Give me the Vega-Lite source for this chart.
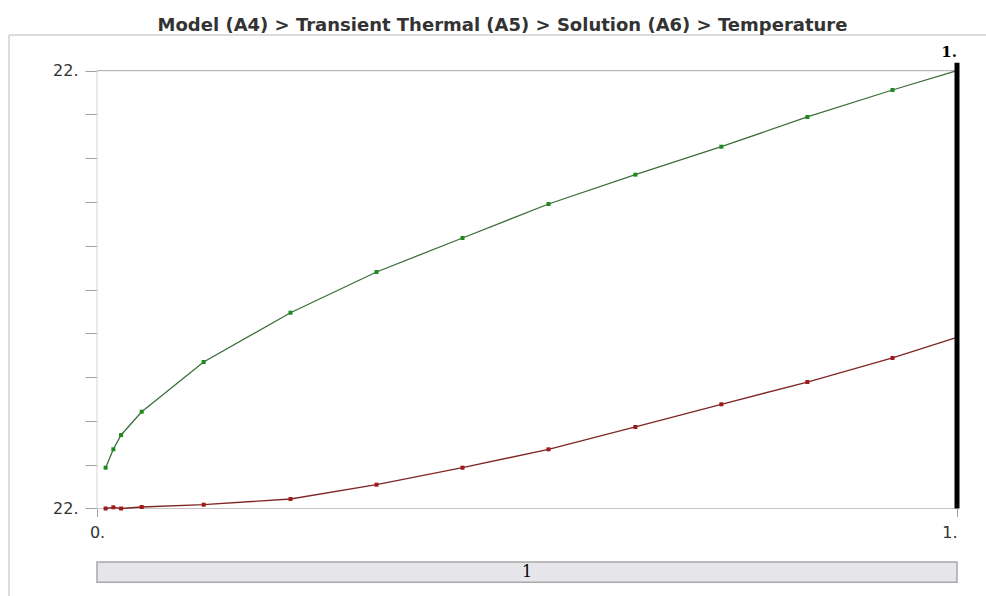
{
  "$schema": "https://vega.github.io/schema/vega-lite/v6.json",
  "width": 977,
  "height": 561,
  "autosize": {"type": "none"},
  "padding": {"left": 9, "top": 35, "right": 0, "bottom": 0},
  "background": "white",
  "config": {"view": {"stroke": null}, "font": "DejaVu Sans"},
  "title": {
    "text": "Model (A4) > Transient Thermal (A5) > Solution (A6) > Temperature",
    "font": "DejaVu Sans",
    "fontSize": 18,
    "fontWeight": "bold",
    "color": "#333333",
    "anchor": "middle",
    "frame": "group",
    "baseline": "bottom",
    "offset": -18,
    "dx": 5
  },
  "datasets": {
    "temperature": [
      {"time": 0.01, "temperature": 22.00932, "series": "Maximum"},
      {"time": 0.019, "temperature": 22.01352, "series": "Maximum"},
      {"time": 0.028, "temperature": 22.01679, "series": "Maximum"},
      {"time": 0.052, "temperature": 22.02211, "series": "Maximum"},
      {"time": 0.124, "temperature": 22.03346, "series": "Maximum"},
      {"time": 0.225, "temperature": 22.04472, "series": "Maximum"},
      {"time": 0.325, "temperature": 22.05402, "series": "Maximum"},
      {"time": 0.425, "temperature": 22.06179, "series": "Maximum"},
      {"time": 0.525, "temperature": 22.06955, "series": "Maximum"},
      {"time": 0.626, "temperature": 22.07625, "series": "Maximum"},
      {"time": 0.726, "temperature": 22.08264, "series": "Maximum"},
      {"time": 0.826, "temperature": 22.08943, "series": "Maximum"},
      {"time": 0.925, "temperature": 22.09559, "series": "Maximum"},
      {"time": 1.0, "temperature": 22.1, "series": "Maximum"},
      {"time": 0.01, "temperature": 22.0, "series": "Minimum"},
      {"time": 0.019, "temperature": 22.00027, "series": "Minimum"},
      {"time": 0.028, "temperature": 22.0, "series": "Minimum"},
      {"time": 0.052, "temperature": 22.00034, "series": "Minimum"},
      {"time": 0.124, "temperature": 22.00087, "series": "Minimum"},
      {"time": 0.225, "temperature": 22.00217, "series": "Minimum"},
      {"time": 0.325, "temperature": 22.00544, "series": "Minimum"},
      {"time": 0.425, "temperature": 22.00932, "series": "Minimum"},
      {"time": 0.525, "temperature": 22.01352, "series": "Minimum"},
      {"time": 0.626, "temperature": 22.01862, "series": "Minimum"},
      {"time": 0.726, "temperature": 22.0238, "series": "Minimum"},
      {"time": 0.826, "temperature": 22.02889, "series": "Minimum"},
      {"time": 0.925, "temperature": 22.03438, "series": "Minimum"},
      {"time": 1.0, "temperature": 22.0391, "series": "Minimum"}
    ],
    "cursor": [{"time": 1.0, "label": "1."}],
    "steps": [{"step": "1", "start": 0, "end": 1}]
  },
  "encoding": {
    "x": {
      "type": "quantitative",
      "scale": {"domain": [-0.102326, 1.033721], "nice": false, "zero": false},
      "axis": {
        "orient": "bottom",
        "offset": -87.5,
        "values": [0, 1],
        "domain": false,
        "grid": false,
        "tickSize": 8,
        "tickColor": "#a0a0a0",
        "labelExpr": "datum.value == 0 ? '0.' : '1.'",
        "labelFont": "DejaVu Sans",
        "labelFontSize": 16,
        "labelColor": "#333333",
        "labelPadding": 8,
        "labelAlign": {"condition": {"test": "datum.value == 1", "value": "right"}, "value": "center"},
        "title": null
      }
    },
    "y": {
      "type": "quantitative",
      "scale": {"domain": [21.980013, 22.108154], "nice": false, "zero": false},
      "axis": {
        "orient": "left",
        "offset": -88,
        "values": [22, 22.01, 22.02, 22.03, 22.04, 22.05, 22.06, 22.07, 22.08, 22.09, 22.1],
        "domain": false,
        "grid": false,
        "tickSize": 12,
        "tickColor": "#a0a0a0",
        "labelExpr": "datum.value == 22 || datum.value == 22.1 ? '22.' : ''",
        "labelFont": "DejaVu Sans",
        "labelFontSize": 16,
        "labelColor": "#333333",
        "labelPadding": 7,
        "labelOverlap": false,
        "title": null
      }
    }
  },
  "layer": [
    {
      "data": {"values": [{}]},
      "mark": {"type": "rule", "color": "#b4bcc4", "strokeWidth": 1},
      "encoding": {
        "x": {"datum": -0.102326},
        "y": {"datum": 21.980013},
        "y2": {"datum": 22.108154}
      }
    },
    {
      "data": {"values": [{}]},
      "mark": {"type": "rule", "color": "#b4bcc4", "strokeWidth": 1},
      "encoding": {
        "x": {"datum": -0.102326},
        "x2": {"datum": 1.033721},
        "y": {"datum": 22.108154}
      }
    },
    {
      "data": {"values": [{"edge": 22.1, "shade": "top"}, {"edge": 22.0, "shade": "bottom"}]},
      "mark": {"type": "rule", "strokeWidth": 1},
      "encoding": {
        "x": {"datum": 0},
        "x2": {"datum": 1},
        "y": {"field": "edge"},
        "color": {"field": "shade", "type": "nominal", "scale": {"domain": ["top", "bottom"], "range": ["#a8a8a8", "#c4c4c4"]}, "legend": null}
      }
    },
    {
      "data": {"values": [{}]},
      "mark": {"type": "rule", "color": "#d4d4d4", "strokeWidth": 1},
      "encoding": {
        "x": {"datum": 0},
        "y": {"datum": 22.0},
        "y2": {"datum": 22.1}
      }
    },
    {
      "data": {"name": "temperature"},
      "mark": {"type": "line", "strokeWidth": 1.3},
      "encoding": {
        "x": {"field": "time"},
        "y": {"field": "temperature"},
        "stroke": {"field": "series", "type": "nominal", "scale": {"domain": ["Maximum", "Minimum"], "range": ["#3d6e3d", "#7e2626"]}, "legend": null}
      }
    },
    {
      "data": {"name": "temperature"},
      "mark": {"type": "point", "shape": "square", "size": 16, "filled": true, "opacity": 1},
      "encoding": {
        "x": {"field": "time"},
        "y": {"field": "temperature"},
        "fill": {"field": "series", "type": "nominal", "scale": {"domain": ["Maximum", "Minimum"], "range": ["#1e8a1e", "#a01818"]}, "legend": null}
      }
    },
    {
      "data": {"name": "cursor"},
      "mark": {"type": "rule", "color": "#000000", "strokeWidth": 5},
      "encoding": {
        "x": {"field": "time"},
        "y": {"datum": 22.0},
        "y2": {"datum": 22.1018}
      }
    },
    {
      "data": {"name": "cursor"},
      "mark": {"type": "text", "font": "DejaVu Serif", "fontWeight": "bold", "fontSize": 15, "align": "right", "baseline": "alphabetic", "dy": -6, "color": "#000000"},
      "encoding": {
        "x": {"field": "time"},
        "y": {"datum": 22.1018},
        "text": {"field": "label"}
      }
    },
    {
      "data": {"name": "steps"},
      "mark": {"type": "rect", "fill": "#e6e6ea", "stroke": "#a8a8a8", "strokeWidth": 1.5},
      "encoding": {
        "x": {"field": "start"},
        "x2": {"field": "end"},
        "y": {"datum": 21.98778},
        "y2": {"datum": 21.98314}
      }
    },
    {
      "data": {"name": "steps"},
      "transform": [{"calculate": "(datum.start + datum.end) / 2", "as": "middle"}],
      "mark": {"type": "text", "font": "DejaVu Serif", "fontSize": 16, "align": "center", "baseline": "middle", "color": "#000000"},
      "encoding": {
        "x": {"field": "middle"},
        "y": {"datum": 21.98546},
        "text": {"field": "step"}
      }
    }
  ]
}
